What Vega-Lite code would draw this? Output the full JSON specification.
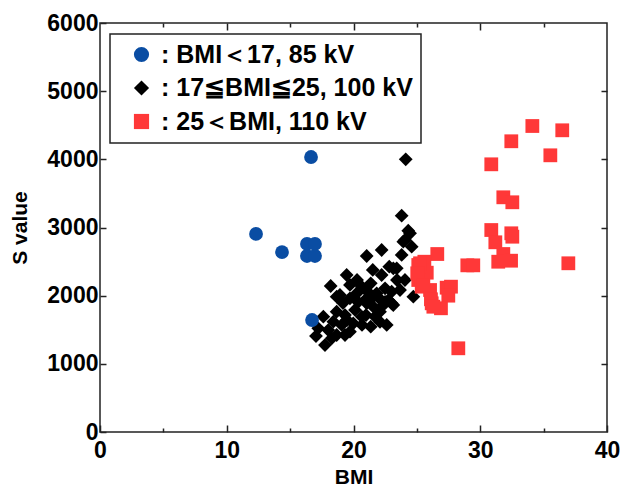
{
  "$schema": "https://vega.github.io/schema/vega-lite/v6.json",
  "width": 507,
  "height": 409,
  "autosize": "none",
  "padding": {"left": 100, "top": 23, "right": 15, "bottom": 57},
  "config": {
    "view": {"stroke": "#222222", "strokeWidth": 1.5},
    "font": "Liberation Sans",
    "legend": {"strokeWidth": 1.5}
  },
  "data": {
    "values": [
      {"bmi": 23.80, "s": 3173, "g": ": 17≦BMI≦25, 100 kV"},
      {"bmi": 24.32, "s": 2953, "g": ": 17≦BMI≦25, 100 kV"},
      {"bmi": 24.06, "s": 2817, "g": ": 17≦BMI≦25, 100 kV"},
      {"bmi": 24.59, "s": 2719, "g": ": 17≦BMI≦25, 100 kV"},
      {"bmi": 23.80, "s": 2597, "g": ": 17≦BMI≦25, 100 kV"},
      {"bmi": 22.22, "s": 2670, "g": ": 17≦BMI≦25, 100 kV"},
      {"bmi": 21.04, "s": 2582, "g": ": 17≦BMI≦25, 100 kV"},
      {"bmi": 21.52, "s": 2377, "g": ": 17≦BMI≦25, 100 kV"},
      {"bmi": 22.22, "s": 2303, "g": ": 17≦BMI≦25, 100 kV"},
      {"bmi": 22.82, "s": 2425, "g": ": 17≦BMI≦25, 100 kV"},
      {"bmi": 23.41, "s": 2401, "g": ": 17≦BMI≦25, 100 kV"},
      {"bmi": 24.06, "s": 2230, "g": ": 17≦BMI≦25, 100 kV"},
      {"bmi": 19.46, "s": 2303, "g": ": 17≦BMI≦25, 100 kV"},
      {"bmi": 18.20, "s": 2142, "g": ": 17≦BMI≦25, 100 kV"},
      {"bmi": 19.72, "s": 2157, "g": ": 17≦BMI≦25, 100 kV"},
      {"bmi": 18.67, "s": 1985, "g": ": 17≦BMI≦25, 100 kV"},
      {"bmi": 19.72, "s": 1961, "g": ": 17≦BMI≦25, 100 kV"},
      {"bmi": 20.65, "s": 2132, "g": ": 17≦BMI≦25, 100 kV"},
      {"bmi": 21.36, "s": 2181, "g": ": 17≦BMI≦25, 100 kV"},
      {"bmi": 21.83, "s": 2035, "g": ": 17≦BMI≦25, 100 kV"},
      {"bmi": 22.49, "s": 2108, "g": ": 17≦BMI≦25, 100 kV"},
      {"bmi": 23.01, "s": 2058, "g": ": 17≦BMI≦25, 100 kV"},
      {"bmi": 22.75, "s": 1936, "g": ": 17≦BMI≦25, 100 kV"},
      {"bmi": 23.14, "s": 1863, "g": ": 17≦BMI≦25, 100 kV"},
      {"bmi": 24.72, "s": 1985, "g": ": 17≦BMI≦25, 100 kV"},
      {"bmi": 21.04, "s": 1888, "g": ": 17≦BMI≦25, 100 kV"},
      {"bmi": 21.56, "s": 1838, "g": ": 17≦BMI≦25, 100 kV"},
      {"bmi": 22.09, "s": 1765, "g": ": 17≦BMI≦25, 100 kV"},
      {"bmi": 21.70, "s": 1691, "g": ": 17≦BMI≦25, 100 kV"},
      {"bmi": 20.12, "s": 1790, "g": ": 17≦BMI≦25, 100 kV"},
      {"bmi": 19.33, "s": 1716, "g": ": 17≦BMI≦25, 100 kV"},
      {"bmi": 18.67, "s": 1765, "g": ": 17≦BMI≦25, 100 kV"},
      {"bmi": 20.65, "s": 1691, "g": ": 17≦BMI≦25, 100 kV"},
      {"bmi": 19.98, "s": 1594, "g": ": 17≦BMI≦25, 100 kV"},
      {"bmi": 17.62, "s": 1691, "g": ": 17≦BMI≦25, 100 kV"},
      {"bmi": 18.41, "s": 1618, "g": ": 17≦BMI≦25, 100 kV"},
      {"bmi": 19.07, "s": 1570, "g": ": 17≦BMI≦25, 100 kV"},
      {"bmi": 19.72, "s": 1471, "g": ": 17≦BMI≦25, 100 kV"},
      {"bmi": 17.22, "s": 1521, "g": ": 17≦BMI≦25, 100 kV"},
      {"bmi": 18.01, "s": 1496, "g": ": 17≦BMI≦25, 100 kV"},
      {"bmi": 18.67, "s": 1423, "g": ": 17≦BMI≦25, 100 kV"},
      {"bmi": 19.33, "s": 1423, "g": ": 17≦BMI≦25, 100 kV"},
      {"bmi": 17.04, "s": 1408, "g": ": 17≦BMI≦25, 100 kV"},
      {"bmi": 17.75, "s": 1276, "g": ": 17≦BMI≦25, 100 kV"},
      {"bmi": 18.28, "s": 1375, "g": ": 17≦BMI≦25, 100 kV"},
      {"bmi": 21.36, "s": 1545, "g": ": 17≦BMI≦25, 100 kV"},
      {"bmi": 22.62, "s": 1570, "g": ": 17≦BMI≦25, 100 kV"},
      {"bmi": 20.91, "s": 1936, "g": ": 17≦BMI≦25, 100 kV"},
      {"bmi": 22.22, "s": 1838, "g": ": 17≦BMI≦25, 100 kV"},
      {"bmi": 24.12, "s": 4000, "g": ": 17≦BMI≦25, 100 kV"},
      {"bmi": 24.46, "s": 2915, "g": ": 17≦BMI≦25, 100 kV"},
      {"bmi": 23.93, "s": 2792, "g": ": 17≦BMI≦25, 100 kV"},
      {"bmi": 23.14, "s": 2401, "g": ": 17≦BMI≦25, 100 kV"},
      {"bmi": 23.01, "s": 1888, "g": ": 17≦BMI≦25, 100 kV"},
      {"bmi": 20.28, "s": 2039, "g": ": 17≦BMI≦25, 100 kV"},
      {"bmi": 19.17, "s": 1892, "g": ": 17≦BMI≦25, 100 kV"},
      {"bmi": 20.36, "s": 1907, "g": ": 17≦BMI≦25, 100 kV"},
      {"bmi": 21.14, "s": 2054, "g": ": 17≦BMI≦25, 100 kV"},
      {"bmi": 22.01, "s": 1966, "g": ": 17≦BMI≦25, 100 kV"},
      {"bmi": 20.99, "s": 1716, "g": ": 17≦BMI≦25, 100 kV"},
      {"bmi": 21.46, "s": 1966, "g": ": 17≦BMI≦25, 100 kV"},
      {"bmi": 22.49, "s": 1907, "g": ": 17≦BMI≦25, 100 kV"},
      {"bmi": 23.67, "s": 2083, "g": ": 17≦BMI≦25, 100 kV"},
      {"bmi": 20.67, "s": 1570, "g": ": 17≦BMI≦25, 100 kV"},
      {"bmi": 19.49, "s": 1643, "g": ": 17≦BMI≦25, 100 kV"},
      {"bmi": 18.93, "s": 2010, "g": ": 17≦BMI≦25, 100 kV"},
      {"bmi": 23.43, "s": 2230, "g": ": 17≦BMI≦25, 100 kV"},
      {"bmi": 20.28, "s": 2230, "g": ": 17≦BMI≦25, 100 kV"},
      {"bmi": 22.09, "s": 1614, "g": ": 17≦BMI≦25, 100 kV"},
      {"bmi": 16.65, "s": 4034, "g": ": BMI＜17, 85 kV"},
      {"bmi": 12.31, "s": 2905, "g": ": BMI＜17, 85 kV"},
      {"bmi": 14.36, "s": 2640, "g": ": BMI＜17, 85 kV"},
      {"bmi": 16.33, "s": 2758, "g": ": BMI＜17, 85 kV"},
      {"bmi": 16.96, "s": 2758, "g": ": BMI＜17, 85 kV"},
      {"bmi": 16.33, "s": 2582, "g": ": BMI＜17, 85 kV"},
      {"bmi": 16.96, "s": 2582, "g": ": BMI＜17, 85 kV"},
      {"bmi": 16.73, "s": 1643, "g": ": BMI＜17, 85 kV"},
      {"bmi": 34.11, "s": 4489, "g": ": 25＜BMI, 110 kV"},
      {"bmi": 36.47, "s": 4426, "g": ": 25＜BMI, 110 kV"},
      {"bmi": 32.45, "s": 4265, "g": ": 25＜BMI, 110 kV"},
      {"bmi": 35.53, "s": 4059, "g": ": 25＜BMI, 110 kV"},
      {"bmi": 30.87, "s": 3927, "g": ": 25＜BMI, 110 kV"},
      {"bmi": 31.82, "s": 3443, "g": ": 25＜BMI, 110 kV"},
      {"bmi": 32.53, "s": 3370, "g": ": 25＜BMI, 110 kV"},
      {"bmi": 30.87, "s": 2963, "g": ": 25＜BMI, 110 kV"},
      {"bmi": 32.45, "s": 2915, "g": ": 25＜BMI, 110 kV"},
      {"bmi": 32.53, "s": 2865, "g": ": 25＜BMI, 110 kV"},
      {"bmi": 31.19, "s": 2783, "g": ": 25＜BMI, 110 kV"},
      {"bmi": 31.82, "s": 2611, "g": ": 25＜BMI, 110 kV"},
      {"bmi": 31.42, "s": 2498, "g": ": 25＜BMI, 110 kV"},
      {"bmi": 32.43, "s": 2513, "g": ": 25＜BMI, 110 kV"},
      {"bmi": 36.95, "s": 2475, "g": ": 25＜BMI, 110 kV"},
      {"bmi": 28.98, "s": 2445, "g": ": 25＜BMI, 110 kV"},
      {"bmi": 29.45, "s": 2445, "g": ": 25＜BMI, 110 kV"},
      {"bmi": 26.61, "s": 2611, "g": ": 25＜BMI, 110 kV"},
      {"bmi": 25.59, "s": 2498, "g": ": 25＜BMI, 110 kV"},
      {"bmi": 25.11, "s": 2450, "g": ": 25＜BMI, 110 kV"},
      {"bmi": 25.78, "s": 2337, "g": ": 25＜BMI, 110 kV"},
      {"bmi": 25.11, "s": 2230, "g": ": 25＜BMI, 110 kV"},
      {"bmi": 25.38, "s": 2132, "g": ": 25＜BMI, 110 kV"},
      {"bmi": 26.04, "s": 2083, "g": ": 25＜BMI, 110 kV"},
      {"bmi": 27.35, "s": 2117, "g": ": 25＜BMI, 110 kV"},
      {"bmi": 27.69, "s": 2132, "g": ": 25＜BMI, 110 kV"},
      {"bmi": 27.48, "s": 2000, "g": ": 25＜BMI, 110 kV"},
      {"bmi": 26.11, "s": 1947, "g": ": 25＜BMI, 110 kV"},
      {"bmi": 26.17, "s": 1888, "g": ": 25＜BMI, 110 kV"},
      {"bmi": 26.90, "s": 1815, "g": ": 25＜BMI, 110 kV"},
      {"bmi": 28.27, "s": 1228, "g": ": 25＜BMI, 110 kV"},
      {"bmi": 25.25, "s": 2475, "g": ": 25＜BMI, 110 kV"},
      {"bmi": 25.03, "s": 2328, "g": ": 25＜BMI, 110 kV"},
      {"bmi": 25.51, "s": 2157, "g": ": 25＜BMI, 110 kV"},
      {"bmi": 26.30, "s": 1838, "g": ": 25＜BMI, 110 kV"}
    ]
  },
  "resolve": {"axis": {"x": "independent", "y": "independent"}},
  "layer": [
    {
      "mark": {"type": "point", "filled": true, "opacity": 1, "size": 190},
      "encoding": {
        "x": {
          "field": "bmi", "type": "quantitative",
          "scale": {"domain": [0, 40], "nice": false, "zero": false},
          "axis": {
            "orient": "bottom",
            "values": [0, 5, 10, 15, 20, 25, 30, 35, 40],
            "labelExpr": "datum.value % 10 === 0 ? datum.label : ''",
            "tickSize": {"condition": {"test": "datum.value % 10 === 0", "value": -7}, "value": -4},
            "tickColor": "#222222", "tickWidth": 1.5,
            "domain": false, "grid": false,
            "labelFont": "Liberation Sans", "labelFontWeight": "bold", "labelFontSize": 23,
            "labelColor": "black", "labelPadding": 14, "labelFlush": false,
            "title": "BMI", "titleFont": "Liberation Sans", "titleFontWeight": "bold",
            "titleFontSize": 21, "titleColor": "black", "titlePadding": 4
          }
        },
        "y": {
          "field": "s", "type": "quantitative",
          "scale": {"domain": [0, 6000], "nice": false, "zero": false},
          "axis": {
            "orient": "left",
            "values": [0, 1000, 2000, 3000, 4000, 5000, 6000],
            "format": "d",
            "tickSize": -6, "tickColor": "#222222", "tickWidth": 1.5,
            "domain": false, "grid": false,
            "labelFont": "Liberation Sans", "labelFontWeight": "bold", "labelFontSize": 23,
            "labelColor": "black", "labelPadding": 8, "labelFlush": false,
            "title": "S value", "titleFont": "Liberation Sans", "titleFontWeight": "bold",
            "titleFontSize": 21, "titleColor": "black", "titlePadding": 16
          }
        },
        "shape": {
          "field": "g", "type": "nominal",
          "scale": {
            "domain": [": BMI＜17, 85 kV", ": 17≦BMI≦25, 100 kV", ": 25＜BMI, 110 kV"],
            "range": ["circle", "diamond", "square"]
          },
          "legend": null
        },
        "color": {
          "field": "g", "type": "nominal",
          "scale": {
            "domain": [": BMI＜17, 85 kV", ": 17≦BMI≦25, 100 kV", ": 25＜BMI, 110 kV"],
            "range": ["#0A4DA3", "#000000", "#FF3838"]
          },
          "legend": {
            "orient": "none", "legendX": 10, "legendY": 11,
            "title": null,
            "labelFont": "Liberation Sans", "labelFontWeight": "bold", "labelFontSize": 25,
            "labelColor": "black", "labelLimit": 400, "labelOffset": 7,
            "symbolSize": 230, "symbolStrokeWidth": 0,
            "strokeColor": "#222222", "fillColor": "white",
            "padding": 8, "rowPadding": 7.5, "symbolOffset": 11
          }
        }
      }
    },
    {
      "mark": {"type": "point", "opacity": 0},
      "encoding": {
        "x": {
          "field": "bmi", "type": "quantitative",
          "axis": {
            "orient": "top",
            "values": [5, 10, 15, 20, 25, 30, 35],
            "labels": false, "title": null, "domain": false, "grid": false,
            "tickSize": {"condition": {"test": "datum.value % 10 === 0", "value": -7}, "value": -4},
            "tickColor": "#222222", "tickWidth": 1.5
          }
        },
        "y": {
          "field": "s", "type": "quantitative",
          "axis": {
            "orient": "right",
            "values": [1000, 2000, 3000, 4000, 5000],
            "labels": false, "title": null, "domain": false, "grid": false,
            "tickSize": -6, "tickColor": "#222222", "tickWidth": 1.5
          }
        }
      }
    }
  ]
}
